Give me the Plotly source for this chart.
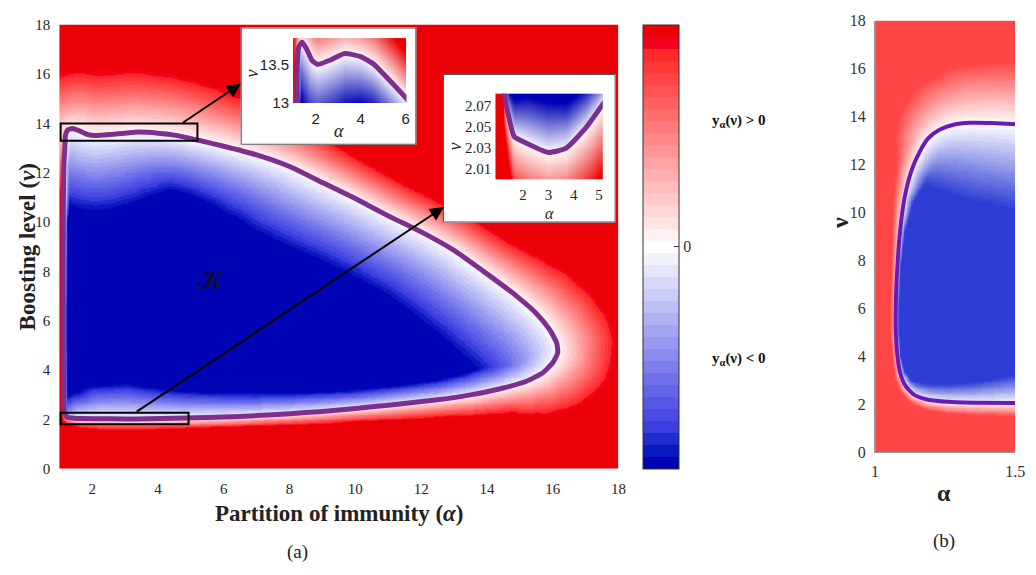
import numpy as np
import plotly.graph_objects as go

W, H = 1036, 575
SERIF = "Liberation Serif"
SANS = "Liberation Sans"

# ---------------- data ----------------
# (a) zero level set of y_alpha(nu): closed curve, walked from the lower-left corner
# up the left side, along the upper branch to the tip and back along the lower branch
K_ALPHA = [1.14, 1.13, 1.12, 1.12, 1.14, 1.17, 1.19, 1.25, 1.40, 1.60, 1.85, 2.10, 2.60,
           3.30, 4.00, 4.60, 5.20, 6.00, 7.00, 8.00, 9.00, 10.0, 11.0, 12.0, 13.0, 14.0,
           14.9, 15.5, 15.9, 16.12, 16.15, 16.0, 15.7, 15.2, 14.5, 13.5, 12.5, 11.0, 10.0,
           9.0, 8.0, 7.0, 6.0, 5.1, 4.5, 3.7, 3.0, 2.2, 1.65, 1.45, 1.26, 1.20, 1.16]
K_NU = [2.60, 3.50, 6.00, 10.00, 12.30, 13.00, 13.50, 13.72, 13.79, 13.70, 13.55, 13.50, 13.55,
        13.64, 13.60, 13.50, 13.32, 13.07, 12.72, 12.25, 11.60, 10.95, 10.25, 9.60, 8.85, 7.90,
        7.00, 6.30, 5.65, 5.10, 4.70, 4.30, 3.90, 3.55, 3.28, 3.00, 2.80, 2.58, 2.45,
        2.33, 2.24, 2.16, 2.10, 2.07, 2.05, 2.03, 2.026, 2.034, 2.041, 2.058, 2.082, 2.15, 2.30]
# shading depth on each side of the curve (pixels until the colour saturates)
K_SPREAD_POS = [3, 2, 2, 2, 3, 4, 10, 30, 55, 66, 69, 69, 69, 68, 66, 64, 62, 58, 52, 47, 43,
                40, 39, 39, 40, 43, 50, 56, 60, 62, 60, 54, 46, 37, 28, 23, 19, 16, 14, 13, 12,
                11, 11, 11, 11, 11, 11, 11, 10, 8, 6, 4, 3]
K_SPREAD_NEG = [3, 3, 3, 4, 10, 20, 35, 52, 66, 74, 78, 80, 76, 70, 62, 58, 58, 62, 70, 77, 77,
                75, 74, 76, 80, 82, 85, 85, 85, 85, 82, 72, 55, 40, 30, 24, 21, 20, 20, 21, 22,
                24, 26, 28, 30, 34, 38, 36, 28, 20, 10, 5, 3]

# (b) zero level set for 1 <= alpha <= 1.5
B_ALPHA = [1.50, 1.42, 1.34, 1.28, 1.23, 1.19, 1.16, 1.13, 1.105, 1.09, 1.08, 1.074, 1.074,
           1.08, 1.09, 1.11, 1.14, 1.19, 1.26, 1.35, 1.50]
B_NU = [13.68, 13.73, 13.74, 13.66, 13.45, 13.10, 12.55, 11.75, 10.6, 9.3, 7.8, 6.2, 5.0,
        4.0, 3.3, 2.75, 2.4, 2.2, 2.11, 2.075, 2.06]
B_SPREAD_POS = [67, 65, 62, 55, 45, 35, 25, 17, 12, 9, 7, 6, 6, 6, 7, 8, 9, 11, 12, 13, 14]
B_SPREAD_NEG = [90, 85, 78, 70, 60, 48, 33, 20, 10, 5, 3, 3, 3, 3, 5, 9, 14, 17, 19, 22, 30]

MAIN_XTICKS = list(range(2, 19, 2))
MAIN_YTICKS = list(range(0, 19, 2))
INSET1_XTICKS = [2, 4, 6]
INSET1_YTICKS = [13, 13.5]
INSET2_XTICKS = [2, 3, 4, 5]
INSET2_YTICKS = [2.01, 2.03, 2.05, 2.07]
B_XTICKS = [1, 1.5]


# ---------------- helpers ----------------
def dom_x(left, right):
    return [left / W, right / W]


def dom_y(top, bottom):
    return [1 - bottom / H, 1 - top / H]


def inside_polygon(A, N, pa, pn):
    res = np.zeros(A.shape, bool)
    n = len(pa)
    with np.errstate(divide="ignore", invalid="ignore"):
        for i in range(n):
            j = (i - 1) % n
            ai, ni, aj, nj = pa[i], pn[i], pa[j], pn[j]
            if ni == nj:
                continue
            cond = ((ni > N) != (nj > N)) & (A < (aj - ai) * (N - ni) / (nj - ni) + ai)
            res ^= cond
    return res


def level_field(grid_a, grid_n, ca, cn, spread_pos, spread_neg, sx, sy,
                closed=True, close_a=(), close_n=()):
    """Signed, normalised distance to the curve: 0 on it, +1 / -1 where shading saturates."""
    A, N = np.meshgrid(grid_a, grid_n)
    X, Y = A * sx, N * sy
    px, py = np.asarray(ca) * sx, np.asarray(cn) * sy
    inside = inside_polygon(A, N, list(ca) + list(close_a), list(cn) + list(close_n))
    wp, wn = np.asarray(spread_pos, float), np.asarray(spread_neg, float)
    best = np.full(X.shape, np.inf)
    nseg = len(px) if closed else len(px) - 1
    for i in range(nseg):
        j = (i + 1) % len(px)
        dx, dy = px[j] - px[i], py[j] - py[i]
        t = np.clip(((X - px[i]) * dx + (Y - py[i]) * dy) / (dx * dx + dy * dy), 0, 1)
        d = np.hypot(X - px[i] - t * dx, Y - py[i] - t * dy)
        w = np.where(inside, wn[i] + (wn[j] - wn[i]) * t, wp[i] + (wp[j] - wp[i]) * t)
        best = np.minimum(best, d / w)
    return np.round(np.clip(np.where(inside, -best, best), -1, 1), 3)


def ramp(c0, c1, t):
    return tuple(int(round(c0[k] + (c1[k] - c0[k]) * t)) for k in range(3))


def stepped(colors):
    n = len(colors)
    out = []
    for i, c in enumerate(colors):
        s = "rgb(%d,%d,%d)" % c
        out.append([i / n, s])
        out.append([(i + 1) / n, s])
    return out


WHITE = (255, 255, 255)
red_side = [ramp(WHITE, (255, 42, 42), j / 16) for j in range(1, 17)] + [(244, 0, 28), (234, 0, 6)]
blue_side = [ramp(WHITE, (60, 62, 226), j / 15) for j in range(1, 16)] + [(32, 44, 206), (12, 24, 192), (0, 4, 180)]
MAIN_SCALE = stepped(blue_side[::-1] + [WHITE] + red_side)

b_red = [ramp(WHITE, (255, 70, 70), j / 20) for j in range(1, 21)]
b_blue = [ramp(WHITE, (44, 60, 212), j / 20) for j in range(1, 21)]
B_SCALE = stepped(b_blue[::-1] + [WHITE] + b_red)

# pixel scale of panel (a) and (b) (used as the distance metric)
SX_A, SY_A = (623 - 56) / 17.0, (475 - 17) / 18.0
SX_B, SY_B = (1025 - 883) / 0.5, (458 - 13) / 18.0

# ---------------- fields ----------------
ga = np.round(np.arange(1.0, 18.0001, 0.05), 3)
gn = np.round(np.arange(0.0, 18.0001, 0.05), 3)
z_main = level_field(ga, gn, K_ALPHA, K_NU, K_SPREAD_POS, K_SPREAD_NEG, SX_A, SY_A)

ga1 = np.linspace(1.0, 6.04, 180)
gn1 = np.linspace(13.0, 13.84, 110)
z_in1 = level_field(ga1, gn1, K_ALPHA, K_NU, K_SPREAD_POS, K_SPREAD_NEG, SX_A, SY_A)

ga2 = np.linspace(0.9, 5.15, 180)
gn2 = np.linspace(2.0, 2.082, 110)
z_in2 = level_field(ga2, gn2, K_ALPHA, K_NU, K_SPREAD_POS, K_SPREAD_NEG, SX_A, SY_A)

gab = np.round(np.arange(1.0, 1.50001, 0.0025), 4)
gnb = np.round(np.arange(0.0, 18.0001, 0.05), 3)
z_b = level_field(gab, gnb, B_ALPHA, B_NU, B_SPREAD_POS, B_SPREAD_NEG, SX_B, SY_B,
                  closed=False, close_a=[3.0, 3.0], close_n=[2.06, 13.68])

loop_a = K_ALPHA + [K_ALPHA[0]]
loop_n = K_NU + [K_NU[0]]
PURPLE = "rgb(126,47,142)"

fig = go.Figure()

# panel (a)
fig.add_trace(go.Heatmap(
    x=ga, y=gn, z=z_main, zmin=-1, zmax=1, colorscale=MAIN_SCALE, zsmooth="best",
    hoverinfo="skip", xaxis="x", yaxis="y",
    colorbar=dict(x=648 / W, xanchor="left", xref="paper", y=1 - 246 / H, yanchor="middle",
                  yref="paper", len=458 / H, lenmode="fraction", thickness=36,
                  thicknessmode="pixels", outlinewidth=1, outlinecolor="#333",
                  tickvals=[0], ticktext=["0"], ticks="inside", ticklen=5, tickcolor="#333",
                  tickfont=dict(family=SERIF, size=16, color="#333"), xpad=0, ypad=0)))
fig.add_trace(go.Scatter(x=loop_a, y=loop_n, mode="lines", hoverinfo="skip",
                         line=dict(color=PURPLE, width=5, shape="spline", smoothing=0.5),
                         xaxis="x", yaxis="y"))

# inset 1 frame + plot
fig.add_trace(go.Scatter(x=[0, 1, 1, 0, 0], y=[0, 0, 1, 1, 0], mode="lines", fill="toself",
                         fillcolor="white", line=dict(color="#555", width=2),
                         hoverinfo="skip", xaxis="x2", yaxis="y2"))
fig.add_trace(go.Heatmap(
    x=ga1, y=gn1, z=z_in1, zmin=-0.25, zmax=0.25, zsmooth="best", showscale=False,
    colorscale=[[0, "rgb(0,0,180)"], [0.5, "white"], [1, "rgb(236,0,0)"]],
    hoverinfo="skip", xaxis="x3", yaxis="y3"))
fig.add_trace(go.Scatter(x=loop_a, y=loop_n, mode="lines", hoverinfo="skip",
                         line=dict(color=PURPLE, width=5, shape="spline", smoothing=0.5),
                         xaxis="x3", yaxis="y3"))

# inset 2 frame + plot
fig.add_trace(go.Scatter(x=[0, 1, 1, 0, 0], y=[0, 0, 1, 1, 0], mode="lines", fill="toself",
                         fillcolor="white", line=dict(color="#555", width=2),
                         hoverinfo="skip", xaxis="x4", yaxis="y4"))
zlo2, zhi2 = -0.032, 0.15
mid2 = -zlo2 / (zhi2 - zlo2)
fig.add_trace(go.Heatmap(
    x=ga2, y=gn2, z=z_in2, zmin=zlo2, zmax=zhi2, zsmooth="best", showscale=False,
    colorscale=[[0, "rgb(0,0,180)"], [mid2, "white"], [1, "rgb(236,0,0)"]],
    hoverinfo="skip", xaxis="x5", yaxis="y5"))
fig.add_trace(go.Scatter(x=loop_a, y=loop_n, mode="lines", hoverinfo="skip",
                         line=dict(color=PURPLE, width=5, shape="spline", smoothing=0.5),
                         xaxis="x5", yaxis="y5"))

# panel (b)
fig.add_trace(go.Heatmap(
    x=gab, y=gnb, z=z_b, zmin=-1, zmax=1, colorscale=B_SCALE, zsmooth="best",
    showscale=False, hoverinfo="skip", xaxis="x6", yaxis="y6"))
fig.add_trace(go.Scatter(x=B_ALPHA, y=B_NU, mode="lines", hoverinfo="skip",
                         line=dict(color="rgb(106,26,184)", width=4, shape="spline", smoothing=0.6),
                         xaxis="x6", yaxis="y6"))

# ---------------- axes ----------------
tick_serif = dict(family=SERIF, size=15, color="#262626")
base = dict(showgrid=False, zeroline=False, ticks="", showline=False)
hidden = dict(visible=False, range=[0, 1], fixedrange=True)

fig.update_layout(
    width=W, height=H, margin=dict(l=0, r=0, t=0, b=0),
    paper_bgcolor="white", plot_bgcolor="white", showlegend=False,
    xaxis=dict(base, domain=dom_x(56, 623), range=[1, 18], tickvals=MAIN_XTICKS,
               tickfont=tick_serif, ticklabelstandoff=9, anchor="y"),
    yaxis=dict(base, domain=dom_y(17, 475), range=[0, 18], tickvals=MAIN_YTICKS,
               tickfont=tick_serif, ticklabelstandoff=8, anchor="x"),
    xaxis2=dict(hidden, domain=dom_x(240, 418), anchor="y2"),
    yaxis2=dict(hidden, domain=dom_y(20, 141), anchor="x2"),
    xaxis3=dict(base, domain=dom_x(293, 408), range=[1, 6.04], tickvals=INSET1_XTICKS,
                tickfont=dict(family=SANS, size=15, color="#222"), ticklabelstandoff=5,
                anchor="y3"),
    yaxis3=dict(base, domain=dom_y(31, 98), range=[13, 13.84], tickvals=INSET1_YTICKS,
                ticktext=["13", "13.5"], tickfont=dict(family=SANS, size=15, color="#222"),
                ticklabelstandoff=3, anchor="x3"),
    xaxis4=dict(hidden, domain=dom_x(445, 620), anchor="y4"),
    yaxis4=dict(hidden, domain=dom_y(68, 221), anchor="x4"),
    xaxis5=dict(base, domain=dom_x(498, 607), range=[0.9, 5.15], tickvals=INSET2_XTICKS,
                tickfont=tick_serif, ticklabelstandoff=4, anchor="y5"),
    yaxis5=dict(base, domain=dom_y(88, 177), range=[2.0, 2.082], tickvals=INSET2_YTICKS,
                ticktext=["2.01", "2.03", "2.05", "2.07"], tickfont=tick_serif,
                ticklabelstandoff=3, anchor="x5"),
    xaxis6=dict(base, domain=dom_x(883, 1025), range=[1, 1.5], tickvals=B_XTICKS,
                ticktext=["1", "1.5"], showline=True, linecolor="#999", linewidth=1,
                tickfont=dict(family=SERIF, size=16, color="#333"), ticklabelstandoff=4,
                anchor="y6"),
    yaxis6=dict(base, domain=dom_y(13, 458), range=[0, 18], tickvals=MAIN_YTICKS,
                showline=True, linecolor="#999", linewidth=1,
                tickfont=dict(family=SERIF, size=16, color="#333"), ticklabelstandoff=5,
                anchor="x6"),
)

# zoom windows on panel (a)
for x0, x1, y0, y1 in [(1.04, 5.2, 13.29, 13.99), (1.04, 4.93, 1.81, 2.28)]:
    fig.add_shape(type="rect", xref="x", yref="y", x0=x0, x1=x1, y0=y0, y1=y1,
                  line=dict(color="black", width=2), layer="above")

# arrows from zoom windows to insets
for tip, tail in [((6.52, 15.60), (4.72, 13.99)), ((12.69, 10.61), (3.31, 2.28))]:
    fig.add_annotation(x=tip[0], y=tip[1], ax=tail[0], ay=tail[1], xref="x", yref="y",
                       axref="x", ayref="y", text="", showarrow=True, arrowhead=2,
                       arrowsize=1.4, arrowwidth=2, arrowcolor="black")


def label(text, px, py, size, angle=0, family=SERIF, color="#222"):
    fig.add_annotation(x=px / W, y=1 - py / H, xref="paper", yref="paper", text=text,
                       showarrow=False, textangle=angle, xanchor="center", yanchor="middle",
                       font=dict(family=family, size=size, color=color))


label("<b>Partition of immunity (<i>α</i>)</b>", 340, 521, 23)
label("<b>Boosting level (<i>ν</i>)</b>", 24, 246, 23, angle=-90)
label("(a)", 298, 561, 19)
label("(b)", 953, 549, 19)
label("<b>y<sub>α</sub>(ν) &gt; 0</b>", 745, 116, 15, color="#111")
label("<b>y<sub>α</sub>(ν) &lt; 0</b>", 745, 362, 15, color="#111")
label("<i>ν</i>", 251, 68, 18, angle=-90)
label("<i>α</i>", 340, 127, 18)
label("<i>ν</i>", 457, 143, 18, angle=-90)
label("<i>α</i>", 553, 212, 16)
label("<b>ν</b>", 848, 222, 24, angle=-90)
label("<b>α</b>", 953, 500, 24)
fig.add_annotation(x=5.63, y=7.67, xref="x", yref="y", text="𝒦", showarrow=False,
                   font=dict(family="DejaVu Serif", size=28, color="#111"))

fig.write_html("out.html")
